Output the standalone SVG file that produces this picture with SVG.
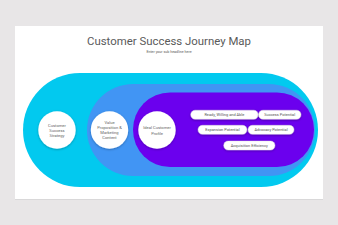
<svg xmlns="http://www.w3.org/2000/svg" width="338" height="225" viewBox="0 0 338 225">
<defs>
<filter id="sh" x="-30%" y="-30%" width="160%" height="160%">
<feDropShadow dx="0" dy="0.8" stdDeviation="1" flood-color="#000" flood-opacity="0.3"/>
</filter>
<filter id="cardsh" x="-5%" y="-5%" width="110%" height="110%">
<feDropShadow dx="0" dy="0.5" stdDeviation="0.6" flood-color="#000" flood-opacity="0.12"/>
</filter>
</defs>
<style>
.t{font-family:Roboto,"Liberation Sans",sans-serif;fill:#5a5a5a;text-anchor:middle}
.c{font-family:Roboto,"Liberation Sans",sans-serif;fill:#666;text-anchor:middle;font-size:4.1px}
.p{font-family:Roboto,"Liberation Sans",sans-serif;fill:#555;text-anchor:middle;font-size:3.9px}
.circ{fill:#fff;filter:url(#sh)}
.pill{fill:#fff;stroke:#d8d8d8;stroke-width:0.4;filter:url(#sh)}
</style>
<rect x="0" y="0" width="338" height="225" fill="#e8e6e7"/>
<rect x="15" y="26" width="308" height="173" fill="#fff" filter="url(#cardsh)"/>
<text class="t" x="169" y="44.5" font-size="11.4">Customer Success Journey Map</text>
<text class="t" x="169" y="53" font-size="3.6" fill="#666">Enter your sub headline here</text>

<g id="band-outer"><rect x="23" y="73" width="295" height="114" rx="57" fill="#02c9ef"/></g>
<g id="band-middle"><rect x="87" y="84" width="228" height="92" rx="46" fill="#4195f4"/></g>
<g id="band-inner"><rect x="133" y="92.5" width="181" height="74.5" rx="37" fill="#6b00ee"/></g>

<g id="node-strategy">
<circle class="circ" cx="57" cy="130" r="18.7"/>
<text class="c" x="57" y="126.5">Customer</text>
<text class="c" x="57" y="131.8">Success</text>
<text class="c" x="57" y="137">Strategy</text>
</g>
<g id="node-value">
<circle class="circ" cx="109.5" cy="130" r="18.7"/>
<text class="c" x="109.5" y="123.5">Value</text>
<text class="c" x="109.5" y="128.8">Proposition &amp;</text>
<text class="c" x="109.5" y="134.1">Marketing</text>
<text class="c" x="109.5" y="139.4">Content</text>
</g>
<g id="node-icp">
<circle class="circ" cx="157" cy="130" r="18.7"/>
<text class="c" x="157" y="128.6">Ideal Customer</text>
<text class="c" x="157" y="135">Profile</text>
</g>

<g id="pill-ready"><rect class="pill" x="190.7" y="110.2" width="67.5" height="9" rx="4.5"/><text class="p" x="224.4" y="116.1">Ready, Willing and Able</text></g>
<g id="pill-success"><rect class="pill" x="258.5" y="110.2" width="42.5" height="9" rx="4.5"/><text class="p" x="279.7" y="116.1">Success Potential</text></g>
<g id="pill-expansion"><rect class="pill" x="198" y="125.3" width="49" height="9" rx="4.5"/><text class="p" x="222.5" y="131.2">Expansion Potential</text></g>
<g id="pill-advocacy"><rect class="pill" x="248" y="125.3" width="46" height="9" rx="4.5"/><text class="p" x="271" y="131.2">Advocacy Potential</text></g>
<g id="pill-acquisition"><rect class="pill" x="223.7" y="141" width="51.3" height="9" rx="4.5"/><text class="p" x="249.3" y="146.9">Acquisition Efficiency</text></g>
<g id="connectors"></g>
</svg>
